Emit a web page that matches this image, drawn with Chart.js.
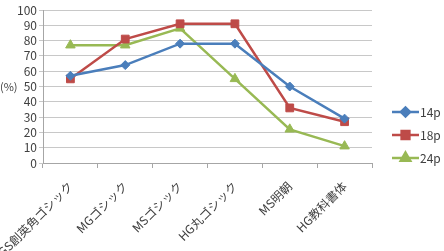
<!DOCTYPE html>
<html>
<head>
<meta charset="utf-8">
<script src="https://cdn.jsdelivr.net/npm/chart.js@4"></script>
<style>
  html, body { margin: 0; padding: 0; background: #fff; }
  #wrap { width: 444px; height: 251px; position: relative; }
</style>
</head>
<body>
<div id="wrap"><canvas id="chart" width="444" height="251"></canvas></div>
<script>
const categories = ['HGS創英角ゴシック', 'MGゴシック', 'MSゴシック', 'HG丸ゴシック', 'MS明朝', 'HG教科書体'];
const seriesNames = ['14p', '18p', '24p'];
const values14 = [57, 64, 78, 78, 50, 29];
const values18 = [55, 81, 91, 91, 36, 27];
const values24 = [77, 77, 88, 55, 22, 11];
const yTicks = [0, 10, 20, 30, 40, 50, 60, 70, 80, 90, 100];

const colors = ['#4a7ebb', '#be4b48', '#98b954'];
const markers = ['rectRot', 'rect', 'triangle'];
const radii = [4.5, 5.5, 5.5];
const font = "'Noto Sans CJK JP', 'DejaVu Sans', sans-serif";
const textColor = '#404040';

// Excel-style legend (line + marker) and horizontal "(%)" axis title
const extras = {
    id: 'extras',
    afterDraw(chart) {
        const ctx = chart.ctx;
        ctx.save();
        ctx.font = '11px ' + font;
        ctx.fillStyle = textColor;
        ctx.textBaseline = 'middle';
        ctx.fillText('(%)', 0, 87);

        chart.data.datasets.forEach((ds, i) => {
            const y = 112 + i * 23;
            ctx.strokeStyle = colors[i];
            ctx.lineWidth = 2.5;
            ctx.beginPath();
            ctx.moveTo(392, y);
            ctx.lineTo(419, y);
            ctx.stroke();
            Chart.helpers.drawPoint(ctx, {
                pointStyle: markers[i], radius: radii[i], rotation: 0, borderWidth: 1
            }, 405.5, y);
            ctx.fillStyle = colors[i];
            ctx.fill();
            ctx.fillStyle = textColor;
            ctx.textAlign = 'left';
            ctx.font = '12px ' + font;
            ctx.fillText(seriesNames[i], 420, y);
        });
        ctx.restore();
    }
};

const allValues = [values14, values18, values24];

new Chart(document.getElementById('chart'), {
    type: 'line',
    data: {
        labels: categories,
        datasets: allValues.map((vals, i) => ({
            label: seriesNames[i],
            data: vals,
            borderColor: colors[i],
            backgroundColor: colors[i],
            borderWidth: 2.5,
            pointStyle: markers[i],
            pointRadius: radii[i],
            pointBorderWidth: 1,
            pointBorderColor: colors[i],
            tension: 0
        }))
    },
    options: {
        responsive: false,
        animation: false,
        layout: { padding: { left: 0, right: 72, top: 10, bottom: 0 } },
        plugins: { legend: { display: false }, tooltip: { enabled: false } },
        scales: {
            x: {
                offset: true,
                grid: { offset: true, drawOnChartArea: false, drawTicks: true, tickLength: 5, color: '#a6a6a6' },
                border: { color: '#a6a6a6' },
                ticks: {
                    autoSkip: false, minRotation: 45, maxRotation: 45, padding: 11,
                    color: textColor, font: { family: font, size: 12 }
                },
                afterFit(scale) {
                    scale.height = 88;
                    scale.paddingLeft = 0;
                    scale.paddingRight = 0;
                }
            },
            y: {
                min: 0, max: 100,
                afterBuildTicks(scale) { scale.ticks = yTicks.map(v => ({ value: v })); },
                grid: { color: '#c8c8c8', tickLength: 4 },
                border: { color: '#a6a6a6' },
                ticks: { autoSkip: false, padding: 2, color: textColor, font: { family: font, size: 12 } },
                afterFit(scale) { scale.width = 43; }
            }
        }
    },
    plugins: [extras]
});
</script>
</body>
</html>
